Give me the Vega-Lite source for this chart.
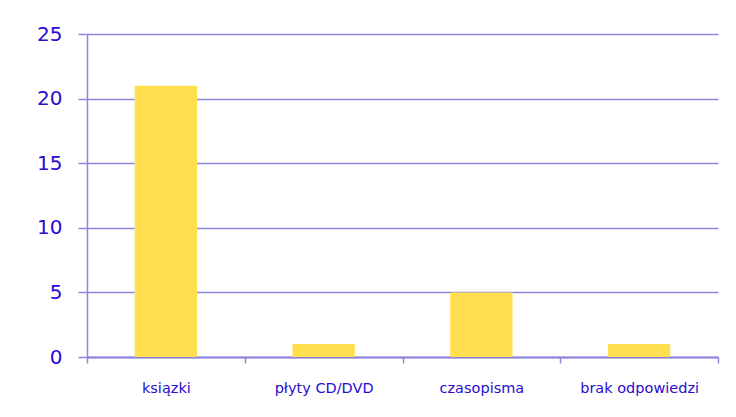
{
  "$schema": "https://vega.github.io/schema/vega-lite/v6.json",
  "width": 631,
  "height": 323,
  "padding": {"left": 87, "top": 34, "right": 18, "bottom": 60},
  "autosize": {"type": "none"},
  "background": "white",
  "data": {"values": [
    {"kategoria": "ksiązki", "liczba": 21},
    {"kategoria": "płyty CD/DVD", "liczba": 1},
    {"kategoria": "czasopisma", "liczba": 5},
    {"kategoria": "brak odpowiedzi", "liczba": 1}
  ]},
  "mark": {"type": "bar", "color": "#FFDF4D", "width": {"band": 0.395}},
  "encoding": {
    "x": {
      "field": "kategoria", "type": "nominal", "sort": null,
      "scale": {"paddingInner": 0, "paddingOuter": 0},
      "axis": {
        "title": null, "labelAngle": 0, "labelFont": "DejaVu Sans", "labelFontSize": 14.5,
        "labelColor": "#2A0BD0", "labelPadding": 18, "domainColor": "#8B86DC", "domainWidth": 2,
        "tickColor": "#8B86DC", "tickSize": 6, "tickWidth": 1.5, "tickBand": "extent", "grid": false
      }
    },
    "y": {
      "field": "liczba", "type": "quantitative",
      "scale": {"domain": [0, 25]},
      "axis": {
        "title": null, "values": [0, 5, 10, 15, 20, 25], "labelFont": "DejaVu Sans", "labelFontSize": 20,
        "labelColor": "#2A0BD0", "labelPadding": 16, "domainColor": "#8B86DC", "domainWidth": 1.5,
        "tickColor": "#8B86DC", "tickSize": 9, "tickWidth": 1.5,
        "gridColor": "#8B86DC", "gridWidth": 1.5, "gridOpacity": 1
      }
    }
  },
  "config": {"view": {"stroke": null}}
}
